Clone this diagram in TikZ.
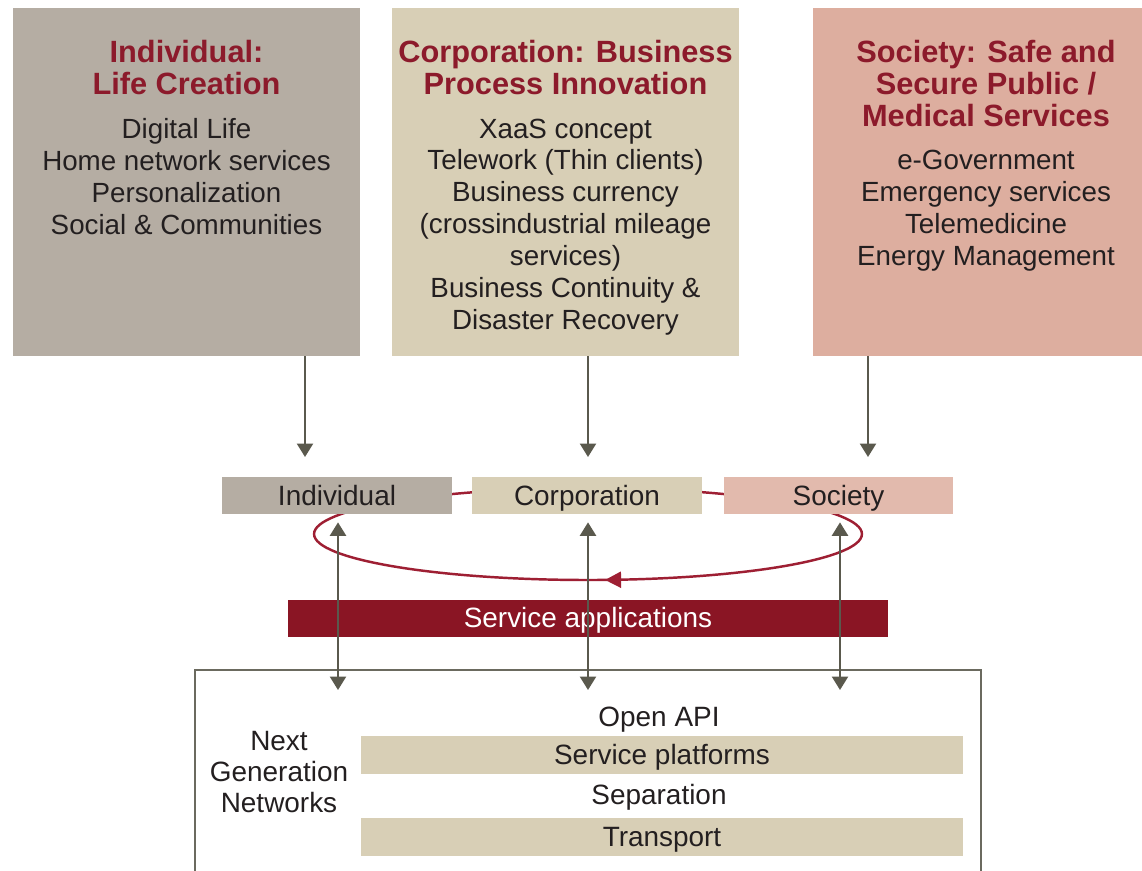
\documentclass[tikz,border=0pt]{standalone}
\usepackage{fontspec}
\setmainfont{Liberation Sans}
\usetikzlibrary{positioning,arrows.meta,decorations.markings}
\definecolor{indfill}{HTML}{B5ADA3}
\definecolor{corpfill}{HTML}{D8CFB6}
\definecolor{socfill}{HTML}{DDAE9F}
\definecolor{titlered}{HTML}{8C1A2B}
\definecolor{appsred}{HTML}{8A1524}
\definecolor{loopred}{HTML}{9E1F33}
\definecolor{arrowgray}{HTML}{5A594D}
\definecolor{txt}{HTML}{231F20}
\tikzset{
 bigbox/.style={minimum width=6.94cm,minimum height=6.96cm,inner sep=0},
 boxtitle/.style={font=\fontsize{17.5}{18.2}\selectfont\bfseries,text=titlered,align=center,inner sep=0,anchor=north},
 boxbody/.style={font=\fontsize{15.8}{18.2}\selectfont,text=txt,align=center,inner sep=0},
 plain/.style={font=\fontsize{15.9}{17.6}\selectfont,text=txt,align=center,inner sep=0},
 tag/.style={plain,text height=11.4pt,text depth=0.4pt,minimum width=4.6cm,minimum height=0.74cm},
 band/.style={tag,fill=corpfill,minimum width=12.04cm,minimum height=0.76cm},
 arr/.style={draw=arrowgray,line width=1.4pt,-{Triangle[width=0.32cm,length=0.27cm]}},
 dblarr/.style={draw=arrowgray,line width=1.4pt,{Triangle[width=0.32cm,length=0.27cm]}-{Triangle[width=0.32cm,length=0.27cm]}}
}
\begin{document}
\begin{tikzpicture}[x=0.02cm,y=-0.02cm]
\clip (0,0) rectangle (1142,870);
\fill[white] (0,0) rectangle (1142,870);
\node[bigbox,fill=indfill] (indbox) at (186.5,182) {};
\node[bigbox,fill=corpfill] (corpbox) at (565.5,182) {};
\node[bigbox,fill=socfill] (socbox) at (986,182) {};
\node[boxtitle] (indtitle) at (186.5,40) {Individual:\\Life Creation};
\node[boxbody,below=0.46cm of indtitle] (indbody) {Digital Life\\Home network services\\Personalization\\Social \& Communities};
\node[boxtitle] (corptitle) at (565.5,40) {Corporation: Business\\Process Innovation};
\node[boxbody,below=0.46cm of corptitle] (corpbody) {XaaS concept\\Telework (Thin clients)\\Business currency\\(crossindustrial mileage\\services)\\Business Continuity \&\\Disaster Recovery};
\node[boxtitle] (soctitle) at (986,40) {Society: Safe and\\Secure Public /\\Medical Services};
\node[boxbody,below=0.46cm of soctitle] (socbody) {e-Government\\Emergency services\\Telemedicine\\Energy Management};
\draw[loopred,line width=1.4pt,postaction={decorate},decoration={markings,
 mark=at position 0.765 with {\arrowreversed{Triangle[width=0.32cm,length=0.32cm]}}}]
 (588,534) ellipse [x radius=5.48cm,y radius=0.92cm];
\node[tag,fill=indfill] (ind) at (337,495.5) {Individual};
\node[tag,fill=corpfill] (corp) at (587,495.5) {Corporation};
\node[tag,fill=socfill!85!white] (soc) at (838.5,495.5) {Society};
\coordinate (indtip) at (305,457);
\coordinate (corptip) at (588,457);
\coordinate (soctip) at (868,457);
\draw[arr] (indbox.south -| indtip) -- (indtip);
\draw[arr] (corpbox.south -| corptip) -- (corptip);
\draw[arr] (socbox.south -| soctip) -- (soctip);
\node[tag,fill=appsred,text=white,minimum width=12cm] (apps) at (588,618) {Service applications};
\node[draw=arrowgray!90!white,line width=1.4pt,minimum width=15.72cm,minimum height=4.6cm] (ngn) at (588,785) {};
\coordinate (ngnind) at (338,690);
\coordinate (ngncorp) at (588,690);
\coordinate (ngnsoc) at (840,690);
\draw[dblarr,shorten <=0.16cm] (ind.south -| ngnind) -- (ngnind);
\draw[dblarr,shorten <=0.16cm] (corp.south -| ngncorp) -- (ngncorp);
\draw[dblarr,shorten <=0.16cm] (soc.south -| ngnsoc) -- (ngnsoc);
\node[plain,font=\fontsize{15.9}{17.8}\selectfont] (ngnname) at (279,772) {Next\\Generation\\Networks};
\node[tag,minimum height=0pt] (openapi) at (659,717) {Open API};
\node[band] (platforms) at (662,755) {Service platforms};
\node[tag,minimum height=0pt] (separation) at (659,795) {Separation};
\node[band] (transport) at (662,837) {Transport};
\end{tikzpicture}
\end{document}
